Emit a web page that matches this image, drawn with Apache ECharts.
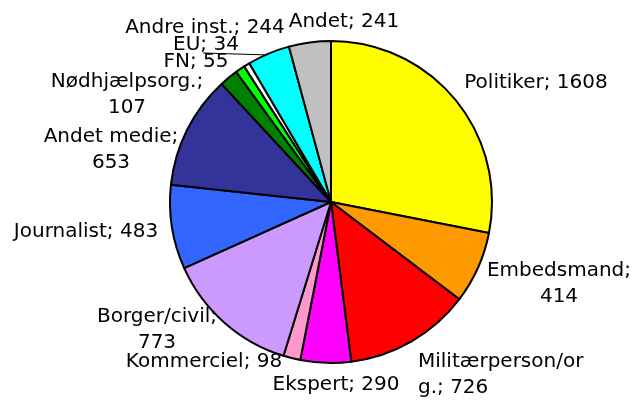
<!DOCTYPE html>
<html>
<head>
<meta charset="utf-8">
<script src="https://cdn.jsdelivr.net/npm/echarts@6/dist/echarts.min.js"></script>
<style>
html,body{margin:0;padding:0;background:#fff;}
#main{width:632px;height:401px;}
</style>
</head>
<body>
<div id="main"></div>
<script>
// kategorier og værdier
var categories=['Politiker','Embedsmand','Militærperson/org.','Ekspert','Kommerciel','Borger/civil','Journalist','Andet medie','Nødhjælpsorg.','FN','EU','Andre inst.','Andet'];
var values=[1608,414,726,290,98,773,483,653,107,55,34,244,241];
var colors=['#FFFF00','#FF9900','#FF0000','#FF00FF','#FF99CC','#CC99FF','#3366FF','#333399','#008000','#00FF00','#FFFFFF','#00FFFF','#C0C0C0'];
// label tekst som i originalen (med linjeskift)
var labelText=['Politiker; 1608','Embedsmand;\n414','Militærperson/or\ng.; 726','Ekspert; 290','Kommerciel; 98','Borger/civil;\n773','Journalist; 483','Andet medie;\n653','Nødhjælpsorg.;\n107','FN; 55','EU; 34','Andre inst.; 244','Andet; 241'];
// hvor labels står (midtpunkt af tekstblok), som i excel-grafen
var labelPos=[[536,83],[559,284],[418,375],[336,385],[204,362],[157,330],[86,232],[111,150],[127,95],[196,62],[206,45],[205,28],[344,22]];

var chart=echarts.init(document.getElementById('main'));
var data=[];
for(var i=0;i<categories.length;i++){
	data.push({
		name:categories[i],
		value:values[i],
		itemStyle:{color:colors[i]},
		label:{align:i==2?'left':'center'},
		labelLine:{show:i==10}
	});
}
var option={
	animation:false,
	series:[{
		type:'pie',
		center:[331,202],
		radius:[0,161],
		startAngle:90,
		clockwise:true,
		avoidLabelOverlap:false,
		itemStyle:{borderColor:'#000',borderWidth:2},
		label:{
			show:true,
			position:'outside',
			color:'#000',
			fontFamily:'DejaVu Sans',
			fontSize:20,
			lineHeight:26,
			formatter:function(p){return labelText[p.dataIndex];}
		},
		labelLine:{length:4,length2:0,lineStyle:{color:'#000',width:1}},
		labelLayout:function(p){
			var pos=labelPos[p.dataIndex];
			var res={
				x:pos[0],
				y:pos[1],
				align:p.dataIndex==2?'left':'center',
				verticalAlign:'middle',
				hideOverlap:false
			};
			//EU har en vandret streg under teksten
			if(p.dataIndex==10){
				res.labelLinePoints=[[270,55],[236,54],[203,53]];
			}
			return res;
		},
		data:data
	}]
};
chart.setOption(option);
</script>
</body>
</html>
